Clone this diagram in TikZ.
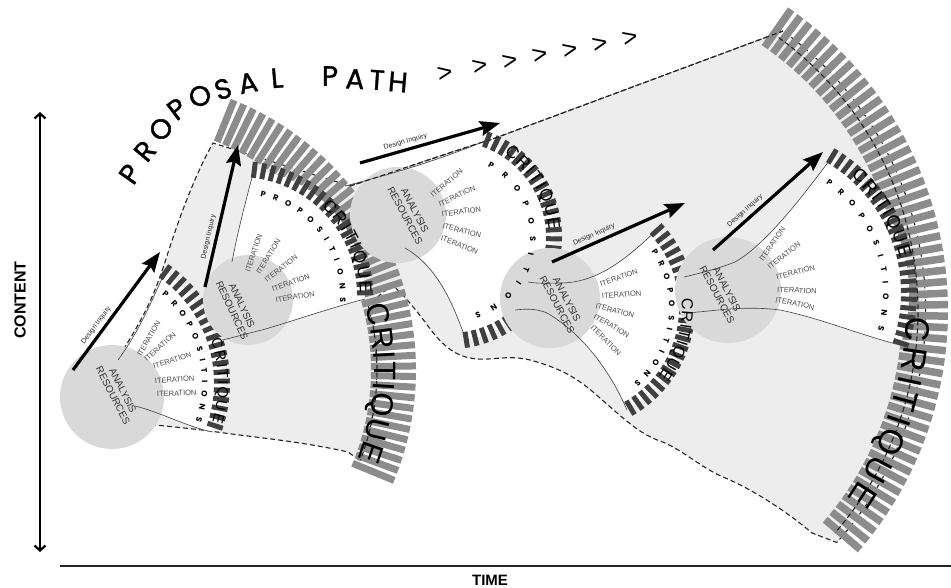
\documentclass[tikz,border=0pt]{standalone}
\usepackage{fontspec}
\setmainfont{Liberation Sans}
\newfontfamily\geofont{Poppins}
\newfontfamily\pathfont[FakeBold=1.2]{Poppins}
\usetikzlibrary{arrows.meta,decorations.text}

\tikzset{
  envelope/.style={fill=black!7},
  envdash/.style={draw=black!85, line width=1.1pt, dash pattern=on 5pt off 3pt},
  lightblock/.style={draw=black!45, line width=7pt},
  darkblock/.style={draw=black!75, line width=5pt},
  fanfill/.style={fill=white},
  fanline/.style={draw=black!75, line width=.6pt},
  resource/.style={circle, fill=black!15, inner sep=0pt},
  iterlabel/.style={font=\fontsize{7.5}{7.5}\selectfont, text=black!70, anchor=base west, inner sep=0pt},
  analysis/.style={font=\fontsize{10}{11}\selectfont, text=black!80, align=center, inner sep=0pt},
  inquiry/.style={line width=3.2pt, -{Stealth[length=20pt,width=15pt,inset=3pt]}},
  inqlabel/.style={font=\fontsize{7}{7}\selectfont, text=black!85, inner sep=3pt},
  titlechar/.style={font=\pathfont\fontsize{28}{28}\selectfont, inner sep=0pt},
  chevron/.style={font=\fontsize{26}{26}\selectfont, inner sep=0pt},
  arctext/.style={decorate, decoration={text along path, text align=fit to path, text={#1}}},
}

\begin{document}
\begin{tikzpicture}[x=1pt, y=-1pt]
    \useasboundingbox (0,0) rectangle (951,588);

    % Axes
    \coordinate (c0) at (40,112);
    \coordinate (c1) at (40,552);
    \draw[line width=2.2pt, {Straight Barb[length=5pt,width=11pt]}-{Straight Barb[length=5pt,width=11pt]}] (c0) -- (c1);
    \node[font=\bfseries\fontsize{16}{16}\selectfont, rotate=90] (content) at (20,300) {CONTENT};
    \coordinate (t0) at (60,566);
    \coordinate (t1) at (951,566);
    \draw[line width=2pt, black!85] (t0) -- (t1);
    \node[font=\bfseries\fontsize{15}{15}\selectfont] (time) at (490,580) {TIME};

    % Proposal path title
    \foreach \x/\y/\r/\c [count=\i] in {130/174/55/P, 145/151/50/R, 161/129/45/O, 177/109/37/P,
        200/96/25/O, 223/89/17/S, 248/83/11/A, 277/78/5/L, 330/76/0/P, 355/79/-3/A, 377/80/-4/T, 398/82/-5/H}
        \node[titlechar, rotate=\r] (title\i) at (\x,\y) {\c};
    \foreach \x/\y/\r [count=\i] in {445/74/10, 480/67/11, 510/62/11, 540/56/12, 570/51/12, 600/45/12, 630/38/13}
        \node[chevron, rotate=\r] (chev\i) at (\x,\y) {>};

    % Envelope of the whole process
    \coordinate (eA) at (350,186);
    \coordinate (eB) at (490,140);
    \coordinate (eC) at (783,31);
    \path[envelope, envdash] (93,418) -- (83,398) -- (90,383) -- (105,377)
        .. controls (130,340) and (150,310) .. (165,262)
        .. controls (180,215) and (195,175) .. (213,143) -- (eA)
        .. controls (400,170) and (450,152) .. (eB) -- (eC)
        arc[start angle=-54, end angle=42, radius=346] -- (812,533)
        .. controls (785,510) and (750,488) .. (723,477)
        .. controls (700,467) and (680,448) .. (660,441)
        .. controls (640,434) and (625,420) .. (600,398)
        .. controls (578,378) and (560,368) .. (530,360)
        .. controls (505,354) and (490,362) .. (470,358)
        .. controls (450,354) and (438,340) .. (425,322)
        .. controls (412,305) and (402,293) .. (392,285) -- (368,305)
        arc[start angle=-15, end angle=21, radius=252] -- (348,452)
        .. controls (300,441) and (250,437) .. (210,431)
        .. controls (170,426) and (120,422) .. (93,418) -- cycle;

    % Outer critique rings
    \begin{scope}[shift={(125,370)}]
        \foreach \t in {-68,-65.9,...,24} \draw[lightblock] (\t:246) -- (\t:291);
    \end{scope}
    \begin{scope}[shift={(580,311)}]
        \foreach \t in {-55,-53.2,...,42} \draw[lightblock, line width=7.5pt] (\t:322) -- (\t:368);
    \end{scope}

    % Proposition fans
    \path[fanfill] (120,357) .. controls (140,330) and (152,300) .. ([shift={(85,383)}]-54:137)
        arc[start angle=-54, end angle=21, radius=137] .. controls (190,428) and (160,412) .. (140,408) -- cycle;
    \path[fanfill] (232,262) .. controls (238,230) and (246,200) .. ([shift={(239,295)}]-83:126)
        arc[start angle=-83, end angle=2, radius=126] .. controls (330,308) and (290,322) .. (262,330) -- cycle;
    \path[fanfill] (362,185) .. controls (400,173) and (450,156) .. ([shift={(450,237)}]-69:104)
        arc[start angle=-69, end angle=81, radius=104] .. controls (455,310) and (440,268) .. (410,250) -- cycle;
    \path[fanfill] (560,283) .. controls (600,283) and (630,255) .. ([shift={(571,308)}]-42:116)
        arc[start angle=-42, end angle=61, radius=116] .. controls (612,375) and (585,335) .. (547,313) -- cycle;
    \path[fanfill] (735,262) .. controls (765,245) and (800,200) .. ([shift={(749,293)}]-58.6:160)
        arc[start angle=-58.6, end angle=19, radius=160] .. controls (860,335) and (820,318) .. (780,310)
        .. controls (765,308) and (755,307) .. (745,307) -- cycle;

    % Critique rings of each unit
    \foreach \cx/\cy/\R/\sa/\ea/\st in {85/383/137/-54/21/3.8, 239/295/126/-83/2/4.1,
        450/237/104/-69/81/5, 571/308/116/-42/61/4.4, 749/293/160/-58.6/19/3.2}{
        \pgfmathsetmacro\nx{\sa+\st}
        \pgfmathsetmacro\ri{\R-8}
        \pgfmathsetmacro\ro{\R+8}
        \begin{scope}[shift={(\cx,\cy)}]
            \foreach \t in {\sa,\nx,...,\ea} \draw[darkblock] (\t:\ri) -- (\t:\ro);
        \end{scope}
    }

    % Analysis / resources circles
    \foreach \x/\y/\r [count=\i] in {112/397/52, 248/300/45, 398/215/48, 550/298/50, 728/290/53}
        \node[resource, minimum size=2*\r pt] (res\i) at (\x,\y) {};

    % Fan borders
    \draw[fanline] (165,272) .. controls (152,300) and (140,330) .. (118,360);
    \draw[fanline] (213,432) .. controls (190,428) and (160,412) .. (135,406);
    \draw[fanline] (254,170) .. controls (246,200) and (238,230) .. (232,262);
    \draw[fanline] (365,299) .. controls (330,308) and (290,322) .. (262,330) .. controls (245,334) and (232,338) .. (222,340);
    \draw[fanline] (345,186) .. controls (400,172) and (450,156) .. (487,140);
    \draw[fanline] (466,340) .. controls (455,310) and (440,268) .. (405,248);
    \draw[fanline] (528,282) .. controls (540,284) and (550,283) .. (560,283) .. controls (600,283) and (630,255) .. (657,230);
    \draw[fanline] (627,410) .. controls (612,375) and (585,335) .. (547,313) .. controls (535,308) and (525,309) .. (515,310);
    \draw[fanline] (684,277) .. controls (705,272) and (720,268) .. (735,262) .. controls (765,245) and (800,200) .. (832,157);
    \draw[fanline] (900,345) .. controls (860,335) and (820,318) .. (780,310) .. controls (740,305) and (710,312) .. (684,313);

    % Dashed edges seen on top
    \draw[envdash] (eA) .. controls (400,170) and (450,152) .. (eB) -- (eC);
    \draw[envdash] ([shift={(580,311)}]-54:338) arc[start angle=-54, end angle=41, radius=338];
    \draw[envdash] ([shift={(125,370)}]-12:252) arc[start angle=-12, end angle=21, radius=252];

    % Iterations
    \foreach \x/\y/\r [count=\i] in {141/357/60, 147/362/42, 154/369/18, 155/384/5, 157/397/3,
        250/273/72, 260/275/58, 267/283/38, 273/292/20, 276/303/10,
        433/198/40, 440/207/25, 442/217/8, 442/228/-15, 440/240/-22,
        601/287/20, 602/299/5, 595/308/-15, 593/318/-30, 590/328/-45,
        763/262/55, 770/270/38, 777/280/15, 777/292/-3, 775/302/-12}
        \node[iterlabel, rotate=\r] (iter\i) at (\x,\y) {ITERATION};

    \foreach \x/\y/\r [count=\i] in {118/393/-63, 237/308/-65, 410/213/-62, 562/302/-62, 722/292/-62}
        \node[analysis, rotate=\r] (ana\i) at (\x,\y) {ANALYSIS\\RESOURCES};

    % Propositions
    \foreach \cx/\cy/\R/\sa/\ea in {85/383/117/-49/19, 239/295/101/-78/4, 450/237/80/-62/72,
        571/308/98/-35/50, 749/293/134/-55/16}
        \path[arctext={|\geofont\bfseries\fontsize{8}{8}\selectfont|PROPOSITIONS}]
            ([shift={(\cx,\cy)}]\sa:\R) arc[start angle=\sa, end angle=\ea, radius=\R];

    % Critique words
    \foreach \cx/\cy/\R/\sa/\ea/\fs in {85/383/133/-19/17/15, 239/295/121/-47/-1/17, 450/237/99/-57/-4/17,
        571/308/111/-5/38/16, 749/293/155/-49/-13/18, 125/370/249/-15/21/31, 580/311/326/1/35/34}
        \path[arctext={|\fontsize{\fs}{\fs}\selectfont|CRITIQUE}]
            ([shift={(\cx,\cy)}]\sa:\R) arc[start angle=\sa, end angle=\ea, radius=\R];

    % Design inquiry arrows
    \foreach \i/\ax/\ay/\bx/\by in {1/73/370/160/252, 2/205/287/238/145, 3/360/163/500/123,
        4/552/262/685/203, 5/713/250/823/152}{
        \coordinate (dia\i) at (\ax,\ay);
        \coordinate (dib\i) at (\bx,\by);
        \draw[inquiry] (dia\i) -- (dib\i) node[inqlabel, pos=0.34, above, sloped] (dl\i) {Design Inquiry};
    }
\end{tikzpicture}
\end{document}
